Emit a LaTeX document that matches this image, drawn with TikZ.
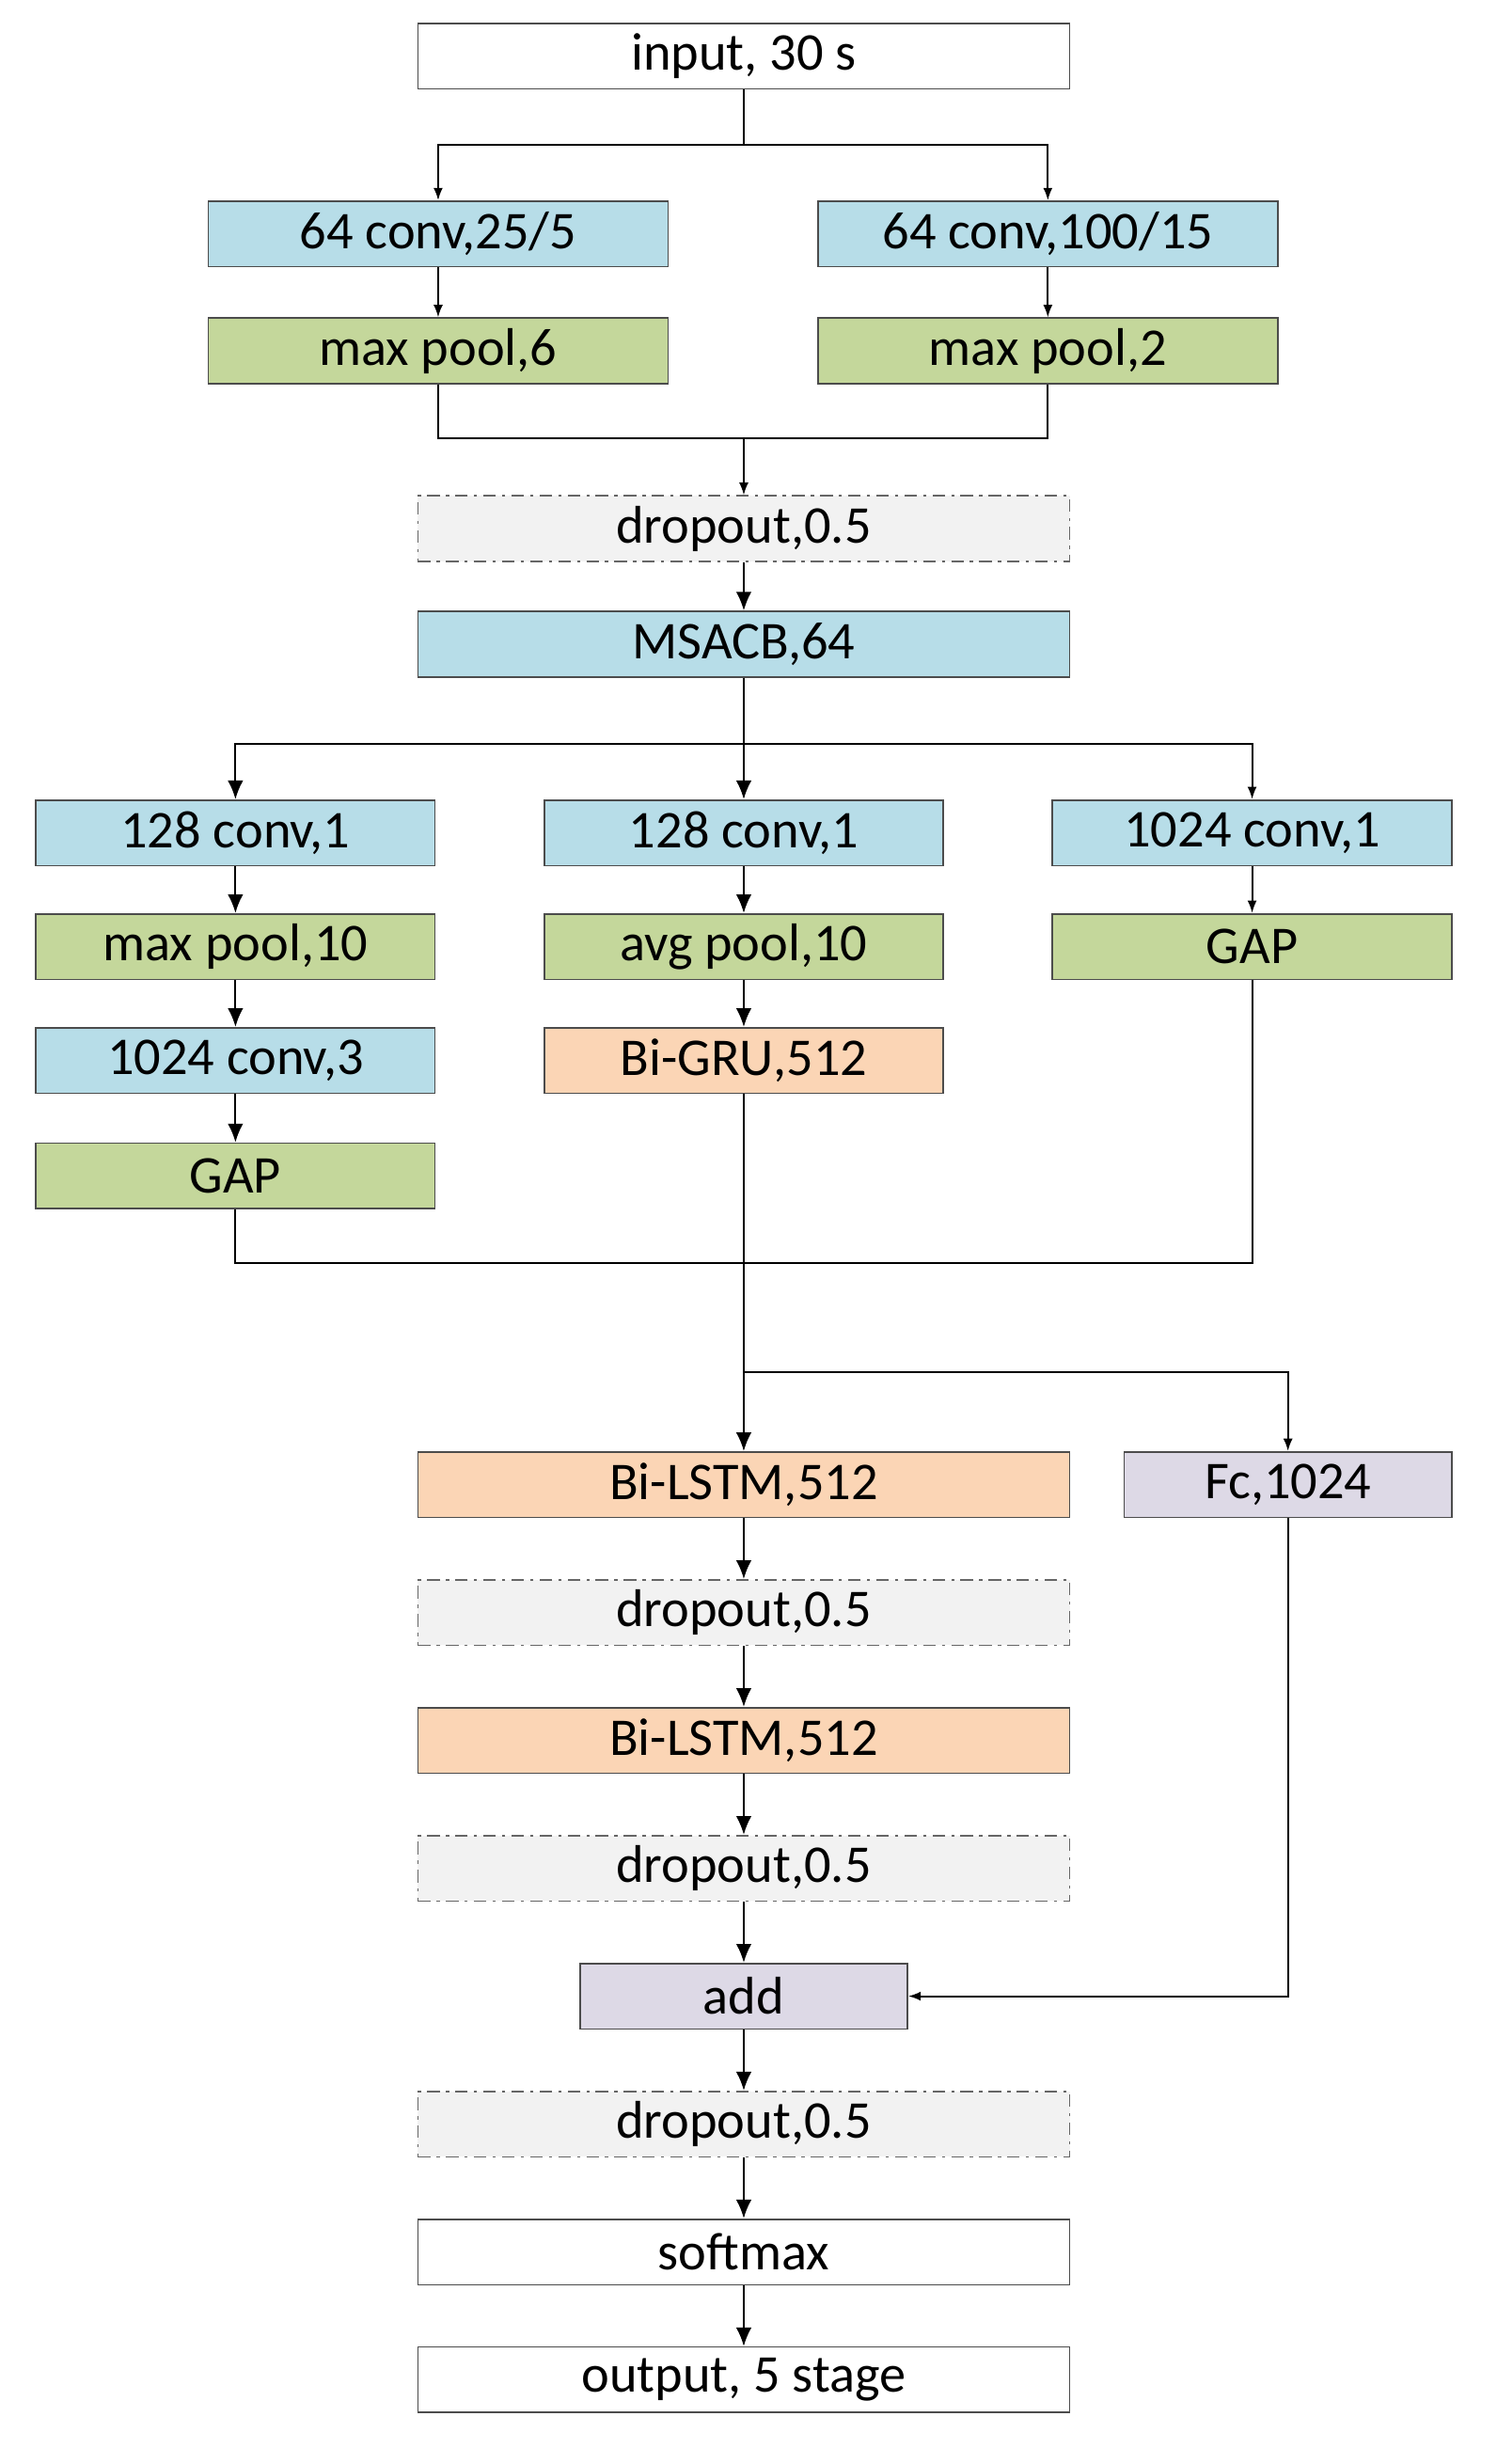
\documentclass[tikz,border=0pt]{standalone}
\usepackage{fontspec}
\setmainfont{Carlito}
\usetikzlibrary{arrows.meta}
\definecolor{cb}{HTML}{B7DDE8}
\definecolor{cg}{HTML}{C4D79B}
\definecolor{co}{HTML}{FBD5B5}
\definecolor{cp}{HTML}{DDD9E6}
\definecolor{cd}{HTML}{F2F2F2}
\begin{document}
\begin{tikzpicture}[x=0.5pt,y=-0.5pt,
 box/.style={draw=black!70,line width=0.5pt,minimum height=21pt,inner sep=0pt,font=\fontsize{17}{19}\selectfont},
 wide/.style={box,minimum width=209pt},
 mid/.style={box,minimum width=147.5pt},
 sm/.style={box,minimum width=128pt},
 fc/.style={box,minimum width=105pt},
 drop/.style={wide,fill=cd,draw=black!60,dash pattern=on 4pt off 2pt on 1pt off 2pt},
 a/.style={-{Latex[length=6pt,width=5pt]},line width=0.6pt},
 as/.style={-{Latex[length=4pt,width=3pt]},line width=0.6pt},
 l/.style={line width=0.6pt}]
\useasboundingbox (0,0) rectangle (960,1580);
\node[wide] (in) at (477,36) {input, 30 s};
\node[mid,fill=cb] (c1) at (281,150) {64 conv,25/5};
\node[mid,fill=cb] (c2) at (672,150) {64 conv,100/15};
\node[mid,fill=cg] (p1) at (281,225) {max pool,6};
\node[mid,fill=cg] (p2) at (672,225) {max pool,2};
\node[drop] (d1) at (477,339) {dropout,0.5};
\node[wide,fill=cb] (ms) at (477,413) {MSACB,64};
\node[sm,fill=cb] (a1) at (151,534) {128 conv,1};
\node[sm,fill=cg] (a2) at (151,607) {max pool,10};
\node[sm,fill=cb] (a3) at (151,680) {1024 conv,3};
\node[sm,fill=cg] (a4) at (151,754) {GAP};
\node[sm,fill=cb] (b1) at (477,534) {128 conv,1};
\node[sm,fill=cg] (b2) at (477,607) {avg pool,10};
\node[sm,fill=co] (b3) at (477,680) {Bi-GRU,512};
\node[sm,fill=cb] (e1) at (803,534) {1024 conv,1};
\node[sm,fill=cg] (e2) at (803,607) {GAP};
\node[wide,fill=co] (l1) at (477,952) {Bi-LSTM,512};
\node[fc,fill=cp] (fcn) at (826,952) {Fc,1024};
\node[drop] (d2) at (477,1034) {dropout,0.5};
\node[wide,fill=co] (l2) at (477,1116) {Bi-LSTM,512};
\node[drop] (d3) at (477,1198) {dropout,0.5};
\node[fc,fill=cp] (add) at (477,1280) {add};
\node[drop] (d4) at (477,1362) {dropout,0.5};
\node[wide] (sf) at (477,1444) {softmax};
\node[wide] (out) at (477,1526) {output, 5 stage};
\coordinate (s1) at (477,93);
\coordinate (j1) at (477,281);
\coordinate (s2) at (477,477);
\coordinate (j2) at (477,810);
\coordinate (s3) at (477,880);
\draw[l] (in.south) -- (s1);
\draw[as] (s1) -| (c1.north);
\draw[as] (s1) -| (c2.north);
\draw[as] (c1) -- (p1);
\draw[as] (c2) -- (p2);
\draw[l] (p1.south) |- (j1);
\draw[l] (p2.south) |- (j1);
\draw[as] (j1) -- (d1);
\draw[a] (d1) -- (ms);
\draw[l] (ms.south) -- (s2);
\draw[a] (s2) -| (a1.north);
\draw[a] (s2) -- (b1.north);
\draw[as] (s2) -| (e1.north);
\draw[a] (a1) -- (a2);
\draw[a] (a2) -- (a3);
\draw[a] (a3) -- (a4);
\draw[a] (b1) -- (b2);
\draw[a] (b2) -- (b3);
\draw[as] (e1) -- (e2);
\draw[l] (a4.south) |- (j2);
\draw[l] (e2.south) |- (j2);
\draw[l] (b3.south) -- (s3);
\draw[a] (s3) -- (l1.north);
\draw[as] (s3) -| (fcn.north);
\draw[a] (l1) -- (d2);
\draw[a] (d2) -- (l2);
\draw[a] (l2) -- (d3);
\draw[a] (d3) -- (add);
\draw[as] (fcn.south) |- (add.east);
\draw[a] (add) -- (d4);
\draw[a] (d4) -- (sf);
\draw[a] (sf) -- (out);
\end{tikzpicture}
\end{document}
